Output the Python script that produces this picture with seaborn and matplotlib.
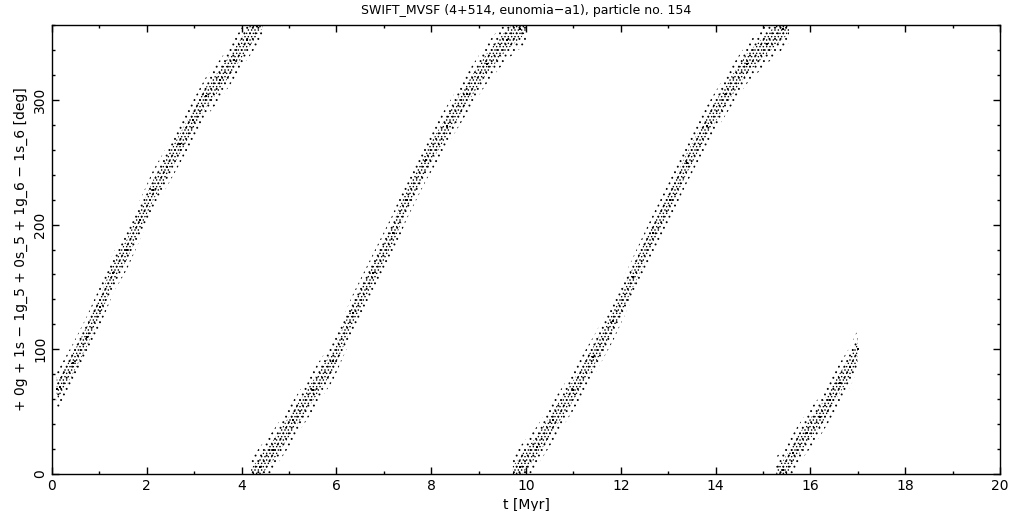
import numpy as np
import pandas as pd
import matplotlib
matplotlib.use('Agg')
import matplotlib.pyplot as plt
import seaborn as sns

# resonant angle, one list per wrap of 0..360 deg
seg1_t = [0.10, 0.17, 0.45, 0.73, 1.01, 1.29, 1.58, 1.86, 2.14, 2.42, 2.70, 2.98, 3.26, 3.54, 3.83, 4.11, 4.32, 4.45]
seg1_deg = [68, 70, 89, 110, 134, 161, 180, 204, 228, 246, 265, 284, 303, 316, 332, 348, 359, 366]

seg2_t = [4.20, 4.39, 4.67, 5.09, 5.51, 5.93, 6.36, 6.78, 7.20, 7.48, 7.90, 8.33, 8.75, 9.17, 9.59, 9.87, 10.00]
seg2_deg = [-4, 6, 19, 43, 67, 91, 129, 161, 193, 220, 252, 279, 305, 329, 348, 357, 362]

seg3_t = [9.72, 9.87, 10.23, 10.58, 11.00, 11.42, 11.84, 12.26, 12.69, 13.04, 13.39, 13.81, 14.23, 14.66, 15.08, 15.43, 15.55]
seg3_deg = [-2, 6, 22, 43, 67, 94, 123, 158, 193, 220, 249, 279, 305, 329, 345, 357, 362]

seg4_t = [15.28, 15.43, 15.64, 15.92, 16.20, 16.41, 16.62, 16.84, 17.00]
seg4_deg = [-2, 3, 17, 33, 46, 59, 73, 86, 100]

# scatter of the angle around the mean drift
spread_outer = 16
spread_inner = 8

x_ticks = [0, 2, 4, 6, 8, 10, 12, 14, 16, 18, 20]
y_ticks = [0, 100, 200, 300]

segments = [(seg1_t, seg1_deg), (seg2_t, seg2_deg), (seg3_t, seg3_deg), (seg4_t, seg4_deg)]
df = pd.concat([pd.DataFrame({'t': t, 'angle': a, 'wrap': i})
                for i, (t, a) in enumerate(segments)])

sns.set_style('ticks')
plt.rcParams['font.family'] = ['DejaVu Sans']
plt.rcParams['hatch.linewidth'] = 0.6
plt.rcParams['text.color'] = 'black'
plt.rcParams['axes.labelcolor'] = 'black'
plt.rcParams['xtick.color'] = 'black'
plt.rcParams['ytick.color'] = 'black'

fig = plt.figure(figsize=(10.21, 5.11), dpi=100)
ax = fig.add_axes([0.0509, 0.0724, 0.9285, 0.8786])

for t, a in segments:
    t = np.array(t)
    a = np.array(a)
    ax.fill_between(t, a - spread_outer, a + spread_outer, facecolor='none',
                    edgecolor='black', hatch='...', linewidth=0)
    ax.fill_between(t, a - spread_inner, a + spread_inner, facecolor='none',
                    edgecolor='black', hatch='.....', linewidth=0)

sns.scatterplot(data=df, x='t', y='angle', color='black', s=2, marker='s',
                linewidth=0, legend=False, ax=ax)

ax.set_xlim(0, 20)
ax.set_ylim(0, 360)
ax.set_xticks(x_ticks)
ax.set_xticks(np.arange(0, 21, 1), minor=True)
ax.set_yticks(y_ticks)
ax.set_yticks(np.arange(0, 361, 20), minor=True)
ax.set_yticklabels([str(v) for v in y_ticks], rotation=90, va='center')
ax.tick_params(which='both', direction='in', top=True, right=True, width=1, labelsize=10)
ax.tick_params(which='major', length=5)
ax.tick_params(which='minor', length=2.5)
for s in ax.spines.values():
    s.set_linewidth(1)
    s.set_color('black')

ax.set_xlabel('t [Myr]', fontsize=10, labelpad=4)
ax.set_ylabel('+ 0g + 1s \u2212 1g_5 + 0s_5 + 1g_6 \u2212 1s_6 [deg]', fontsize=10, labelpad=4)
ax.set_title('SWIFT_MVSF (4+514, eunomia\u2212a1), particle no. 154', fontsize=9, pad=8)

fig.savefig('out.png', dpi=100)
plt.close()
